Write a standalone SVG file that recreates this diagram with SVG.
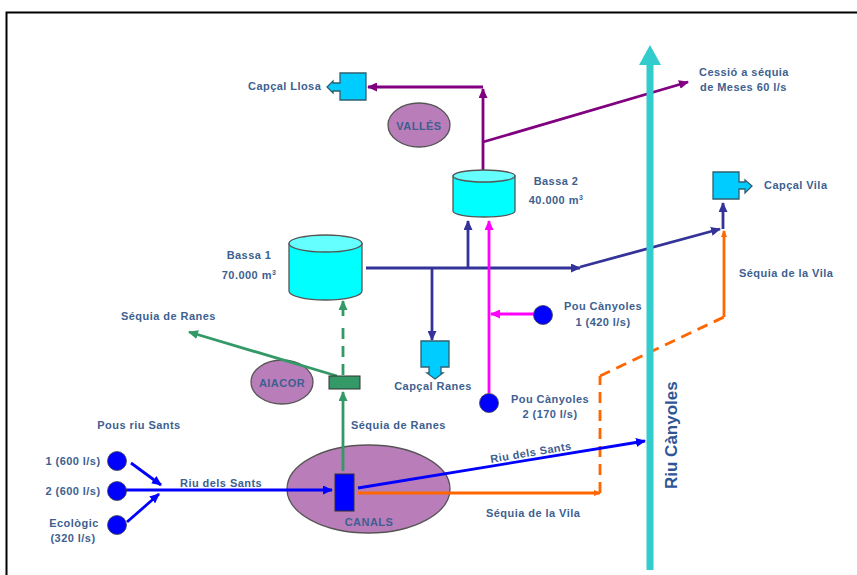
<svg xmlns="http://www.w3.org/2000/svg" width="857" height="575" viewBox="0 0 857 575">
<style>
text{font-family:"Liberation Sans",Arial,sans-serif;font-weight:bold;font-size:11px;fill:#3E5F90;letter-spacing:.45px}
.m{text-anchor:middle}
.c{fill:none;stroke-width:2.800}
.pu{stroke:#800080}.db{stroke:#333399}.gr{stroke:#339966}.or{stroke:#FF6600}.mg{stroke:#FF00FF}.bl{stroke:#0000FF}
.d{stroke-dasharray:11 7}
.tk{fill:#00FFFF;stroke:#555;stroke-width:1.300}
.tp{fill:#66FFFF;stroke:#555;stroke-width:1.300}
.box{fill:#00CCFF;stroke:#2F5F6F;stroke-width:1.300}
.el{fill:#B97DB9;stroke:#555;stroke-width:1.300}
.dot{fill:#0000FF;stroke:#444;stroke-width:.8}
</style>
<defs>
<marker id="apu" markerWidth="10" markerHeight="9" refX="9" refY="4.500" orient="auto" markerUnits="userSpaceOnUse"><path d="M0 0L10 4.500L0 9Z" fill="#800080"/></marker>
<marker id="adb" markerWidth="10" markerHeight="9" refX="9" refY="4.500" orient="auto" markerUnits="userSpaceOnUse"><path d="M0 0L10 4.500L0 9Z" fill="#333399"/></marker>
<marker id="agr" markerWidth="10" markerHeight="9" refX="9" refY="4.500" orient="auto" markerUnits="userSpaceOnUse"><path d="M0 0L10 4.500L0 9Z" fill="#339966"/></marker>
<marker id="aor" markerWidth="7" markerHeight="6" refX="6" refY="3" orient="auto" markerUnits="userSpaceOnUse"><path d="M0 0L7 3L0 6Z" fill="#FF6600"/></marker>
<marker id="amg" markerWidth="10" markerHeight="9" refX="9" refY="4.500" orient="auto" markerUnits="userSpaceOnUse"><path d="M0 0L10 4.500L0 9Z" fill="#FF00FF"/></marker>
<marker id="abl" markerWidth="10" markerHeight="9" refX="9" refY="4.500" orient="auto" markerUnits="userSpaceOnUse"><path d="M0 0L10 4.500L0 9Z" fill="#0000FF"/></marker>
</defs>
<rect width="857" height="575" fill="#fff"/>
<path d="M6.500 575V12.500H857" fill="none" stroke="#000" stroke-width="2"/>
<g id="canals"><ellipse class="el" cx="368.500" cy="489" rx="81.500" ry="44"/><text class="m" x="369" y="526">CANALS</text></g>
<g id="aiacor"><ellipse class="el" cx="282" cy="382" rx="31" ry="22"/><text class="m" x="282" y="387">AIACOR</text></g>
<g id="connectors">
<path class="c pu" d="M483 170V89" marker-end="url(#apu)"/>
<path class="c pu" d="M483 87H368" marker-end="url(#apu)"/>
<path class="c pu" d="M483 142L688 82" marker-end="url(#apu)"/>
<path class="c db" d="M366 268H580" marker-end="url(#adb)"/>
<path class="c db" d="M580 267L720 229" marker-end="url(#adb)"/>
<path class="c db" d="M723 229V203" marker-end="url(#adb)"/>
<path class="c db" d="M468 268V221" marker-end="url(#adb)"/>
<path class="c db" d="M432 268V340" marker-end="url(#adb)"/>
<path class="c mg" d="M489 393V221" marker-end="url(#amg)"/>
<path class="c mg" d="M534 314H491" marker-end="url(#amg)"/>
<path class="c or" d="M358 493H600" marker-end="url(#aor)"/>
<path class="c or d" d="M600 493V376"/>
<path class="c or d" d="M600 376L724 317"/>
<path class="c or" d="M724 317V231" marker-end="url(#aor)"/>
<path class="c bl" d="M358 488L645 441" marker-end="url(#abl)"/>
<path class="c bl" d="M126 490H332" marker-end="url(#abl)"/>
<path class="c bl" d="M131 463L161 485" marker-end="url(#abl)"/>
<path class="c bl" d="M127 522L159 494" marker-end="url(#abl)"/>
<path class="c gr" d="M343 471V392" marker-end="url(#agr)"/>
<path class="c gr d" d="M343 375V325"/>
<path class="c gr" d="M343 316V301" marker-end="url(#agr)"/>
<path class="c gr" d="M337 376L189 332" marker-end="url(#agr)"/>
<path d="M650 570V62" fill="none" stroke="#33CCCC" stroke-width="7"/>
<path d="M650 45L661 65H639Z" fill="#33CCCC"/>
</g>
<g id="comporta"><rect x="335" y="474" width="19" height="37" fill="#0000FF" stroke="#333"/></g>
<g id="repartidor"><rect x="329" y="376" width="31" height="13" fill="#339966" stroke="#333"/></g>
<g id="valles"><ellipse class="el" cx="419" cy="125" rx="31" ry="22"/><text class="m" x="419" y="130">VALLÉS</text></g>
<g id="bassa1"><path class="tk" d="M289 243.500V291C289 296 305 300 325.500 300S362 296 362 291V243.500Z"/><ellipse class="tp" cx="325.500" cy="243.500" rx="36.500" ry="8.500"/><text class="m" x="249" y="259">Bassa 1</text><text class="m" x="249" y="279">70.000 m<tspan font-size="7" dy="-4">3</tspan></text></g>
<g id="bassa2"><path class="tk" d="M453 176V211C453 214.500 467 217 484 217S515 214.500 515 211V176Z"/><ellipse class="tp" cx="484" cy="176" rx="31" ry="6"/><text class="m" x="556" y="185">Bassa 2</text><text class="m" x="556" y="204">40.000 m<tspan font-size="7" dy="-4">3</tspan></text></g>
<g id="capcal-llosa"><path class="box" d="M340 73H366V100H340V91H333V93L327 87L333 81V83H340Z"/><text x="248" y="90">Capçal Llosa</text></g>
<g id="capcal-vila"><path class="box" d="M713 172H739V182H745V180L752 186L745 193V189H739V199H713Z"/><text x="764" y="189">Capçal Vila</text></g>
<g id="capcal-ranes"><path class="box" d="M421 341H449V367H441V373H443L435 379L427 373H429V367H421Z"/><text class="m" x="433" y="390">Capçal Ranes</text></g>
<g id="cessio"><text x="699" y="76">Cessió a séquia</text><text x="700" y="91">de Meses 60 l/s</text></g>
<g id="pou1"><circle class="dot" cx="543" cy="315" r="9.500"/><text class="m" x="603" y="310">Pou Cànyoles</text><text class="m" x="603" y="326">1 (420 l/s)</text></g>
<g id="pou2"><circle class="dot" cx="489" cy="403" r="9.500"/><text class="m" x="550" y="403">Pou Cànyoles</text><text class="m" x="550" y="418">2 (170 l/s)</text></g>
<g id="pous-sants"><text class="m" x="139" y="429">Pous riu Sants</text>
<circle class="dot" cx="117" cy="461" r="9.500"/><text class="m" x="73" y="465">1 (600 l/s)</text>
<circle class="dot" cx="117" cy="491" r="9.500"/><text class="m" x="73" y="495">2 (600 l/s)</text>
<circle class="dot" cx="117" cy="525" r="9.500"/><text class="m" x="74" y="527">Ecològic</text><text class="m" x="73" y="542">(320 l/s)</text></g>
<g id="labels">
<text x="121" y="320">Séquia de Ranes</text>
<text x="351" y="429">Séquia de Ranes</text>
<text x="180" y="487">Riu dels Sants</text>
<text x="491" y="463" transform="rotate(-9.500 491 463)">Riu dels Sants</text>
<text x="486" y="517">Séquia de la Vila</text>
<text x="739" y="277">Séquia de la Vila</text>
<text x="677" y="489" transform="rotate(-90 677 489)" style="font-size:17px;letter-spacing:0;fill:#2F5597">Riu Cànyoles</text>
</g>
</svg>
